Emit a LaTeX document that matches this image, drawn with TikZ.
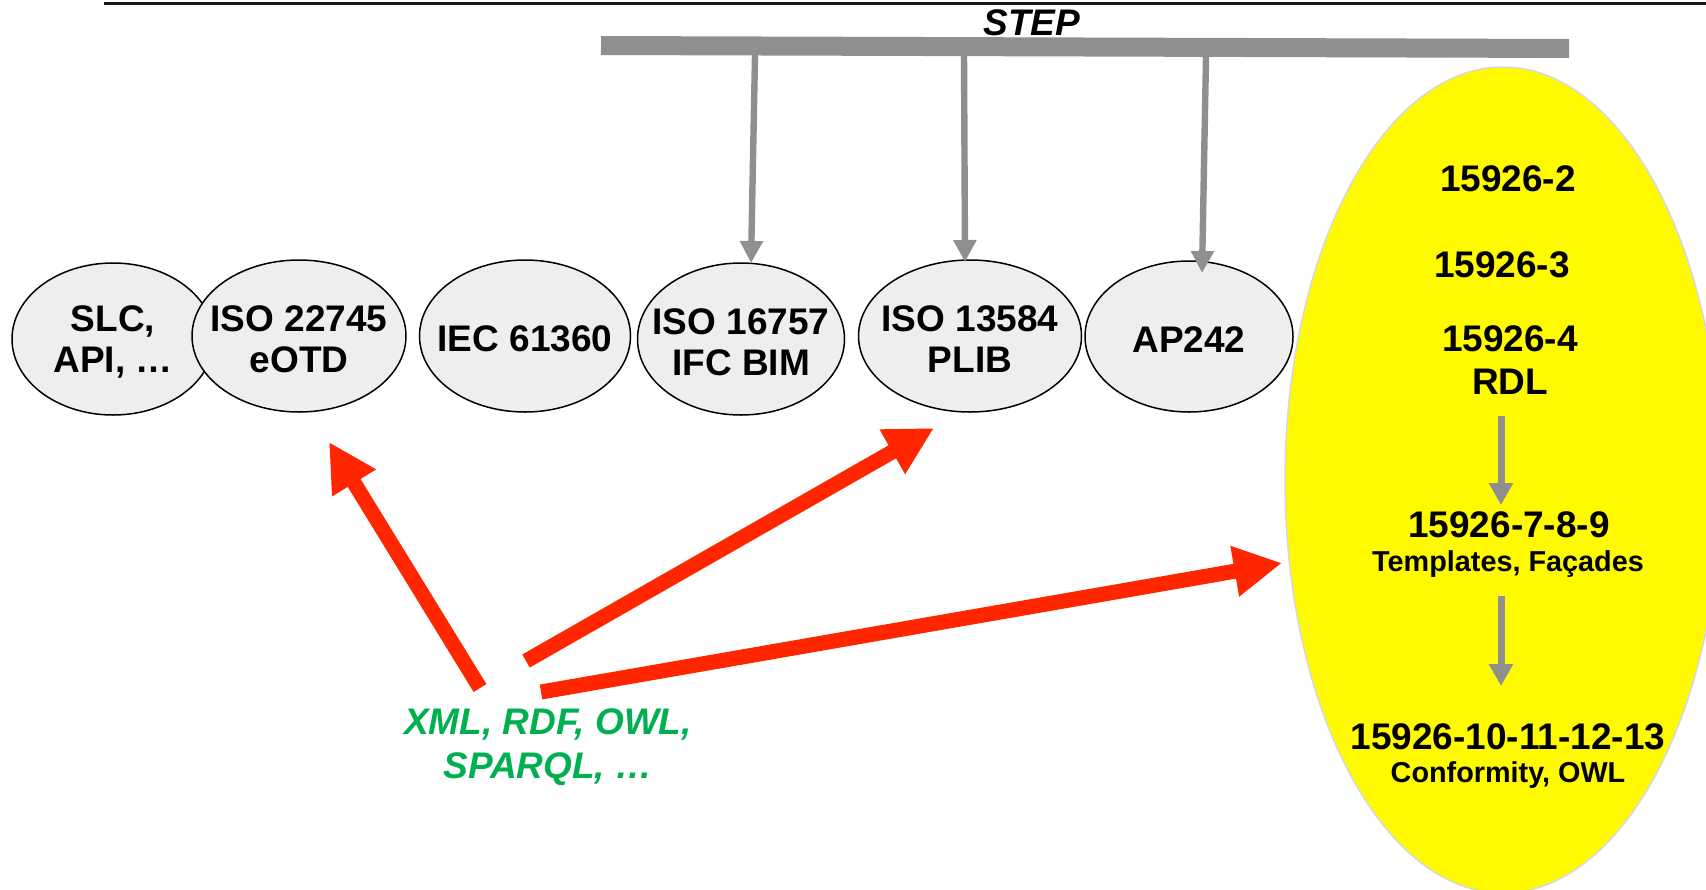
\documentclass[tikz,border=0pt]{standalone}
\usepackage{fontspec}
\setmainfont{Liberation Sans}
\usepackage{tikz}
\usetikzlibrary{arrows.meta, positioning, shapes.geometric}
\definecolor{stdgray}{RGB}{238,238,238}
\definecolor{bargray}{RGB}{143,143,143}
\definecolor{rdlyellow}{RGB}{255,250,0}
\definecolor{rdledge}{RGB}{215,215,225}
\definecolor{linkred}{RGB}{255,38,0}
\definecolor{fmtgreen}{RGB}{0,176,80}

\begin{document}
\begin{tikzpicture}[
        x=0.5pt, y=-0.5pt,
        std/.style={ellipse, draw=black, line width=0.75pt, fill=stdgray,
                    inner sep=0pt},
        stdtext/.style={align=center, inner sep=0pt, yshift=-1.5pt,
                        font=\fontsize{18.5}{20.5}\selectfont\bfseries},
        rdl/.style={ellipse, draw=rdledge, line width=0.75pt, fill=rdlyellow,
                    inner sep=0pt, minimum width=218pt, minimum height=413pt},
        part/.style={anchor=base, inner sep=0pt,
                     font=\fontsize{18.5}{20.5}\selectfont\bfseries},
        partsub/.style={anchor=base, inner sep=0pt,
                        font=\fontsize{14.4}{16}\selectfont\bfseries},
        tap/.style={-{Triangle[length=11pt, width=11pt]}, line width=3.2pt, bargray},
        flow/.style={-{Triangle[length=11pt, width=11.5pt]}, line width=3.5pt, bargray},
        link/.style={-{Triangle[length=24pt, width=24pt]}, line width=7.5pt, linkred}
      ]
      \useasboundingbox (0,0) rectangle (1706,889);

      % top rule and STEP bar
      \draw[line width=1.25pt, black!90] (104,3.5) -- (1706,3.5);
      \node[anchor=base, inner sep=0pt,
            font=\fontsize{18.5}{20.5}\selectfont\bfseries\itshape] (step) at (1032,35) {STEP};
      \coordinate (bar-w) at (601,45.5);
      \coordinate (bar-e) at (1569,48.5);
      \draw[line width=9.5pt, bargray] (bar-w) -- (bar-e);

      % standards
      \node[std, minimum width=101pt, minimum height=76pt] (slc) at (113,339) {};
      \node[std, minimum width=107pt, minimum height=76pt] (iso22745) at (299,336) {};
      \node[std, minimum width=105.5pt, minimum height=76pt] (iec61360) at (525,336) {};
      \node[std, minimum width=103.5pt, minimum height=76pt] (iso16757) at (741,339) {};
      \node[std, minimum width=111.5pt, minimum height=76pt] (iso13584) at (970,336) {};
      \node[std, minimum width=104pt, minimum height=75.5pt] (ap242) at (1189,336.5) {};

      \node[stdtext] (slc-t) at (slc) {SLC,\\API, …};
      \node[stdtext] (iso22745-t) at (iso22745) {ISO 22745\\eOTD};
      \node[stdtext] (iec61360-t) at (iec61360) {IEC 61360};
      \node[stdtext] (iso16757-t) at (iso16757) {ISO 16757\\IFC BIM};
      \node[stdtext] (iso13584-t) at (iso13584) {ISO 13584\\PLIB};
      \node[stdtext] (ap242-t) at (ap242) {AP242};

      % STEP taps
      \coordinate (tap1) at (755,55);
      \coordinate (tap2) at (964,55);
      \coordinate (tap3) at (1206,57);
      \coordinate (in1) at (751,263);
      \coordinate (in2) at (965,262);
      \coordinate (in3) at (1202,273);
      \draw[tap] (tap1) -- (in1);
      \draw[tap] (tap2) -- (in2);
      \draw[tap] (tap3) -- (in3);

      % ISO 15926
      \node[rdl] (rdl) at (1503,480) {};
      \node[part] (p2) at (1508,191) {15926-2};
      \node[part] (p3) at (1502,277) {15926-3};
      \node[part] (p4) at (1510,351) {15926-4};
      \node[part] (rdl-t) at (1510,394) {RDL};
      \node[part] (p789) at (1509,537) {15926-7-8-9};
      \node[partsub] (p789-t) at (1508,571) {Templates, Façades};
      \node[part] (p1013) at (1508,749) {15926-10-11-12-13};
      \node[partsub] (p1013-t) at (1508,782) {Conformity, OWL};

      \coordinate (f1a) at (1501,416);
      \coordinate (f1b) at (1501,505);
      \coordinate (f2a) at (1501,596);
      \coordinate (f2b) at (1501,686);
      \draw[flow] (f1a) -- (f1b);
      \draw[flow] (f2a) -- (f2b);

      % formats
      \node[align=center, inner sep=0pt, text=fmtgreen,
            font=\fontsize{18.5}{22}\selectfont\bfseries\itshape] (fmt) at (548,747)
            {XML, RDF, OWL,\\SPARQL, …};

      \coordinate (l1a) at (480,688);
      \coordinate (l1b) at (329,442);
      \coordinate (l2a) at (526,661);
      \coordinate (l2b) at (934,428);
      \coordinate (l3a) at (541,692);
      \coordinate (l3b) at (1282,563);
      \draw[link] (l1a) -- (l1b);
      \draw[link] (l2a) -- (l2b);
      \draw[link] (l3a) -- (l3b);
    \end{tikzpicture}
\end{document}
